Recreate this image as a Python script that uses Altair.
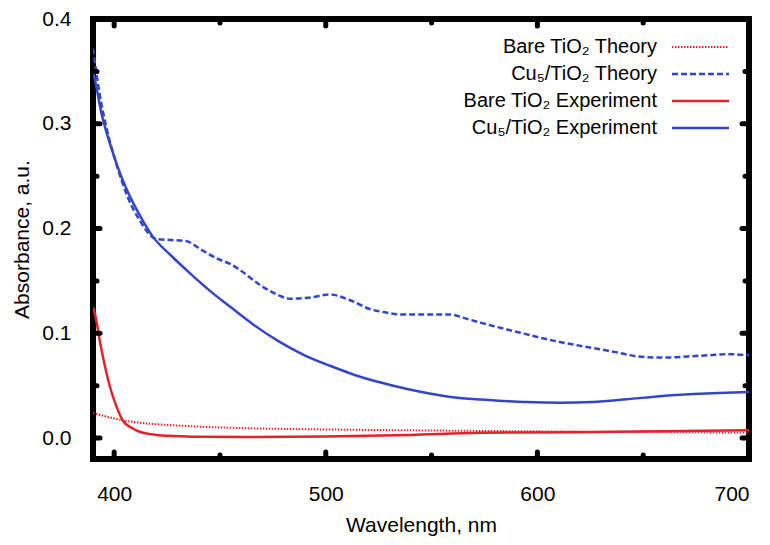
import pandas as pd
import altair as alt

# Cu5/TiO2 theory (dashed blue)
cu_th_wl = [390, 393, 396.5, 401, 406, 412, 418, 420, 427, 434, 441, 449, 455, 459, 469, 477,
            483, 492, 502, 511, 521, 528, 536, 549, 558, 568, 579, 591, 603, 615, 626, 637,
            647, 655, 663, 672, 681, 690, 700]
cu_th_ab = [0.372, 0.330, 0.295, 0.262, 0.232, 0.208, 0.192, 0.190, 0.189, 0.188, 0.180, 0.171,
            0.166, 0.161, 0.146, 0.137, 0.133, 0.134, 0.137, 0.132, 0.123, 0.120, 0.118, 0.118,
            0.118, 0.113, 0.107, 0.101, 0.095, 0.090, 0.086, 0.082, 0.078, 0.077, 0.077, 0.078,
            0.079, 0.080, 0.079]

# Cu5/TiO2 experiment (solid blue)
cu_ex_wl = [390, 391, 394, 398, 402, 406, 412, 418, 427, 436, 445, 455, 466, 478, 490, 502,
            514, 526, 538, 549, 562, 579, 595, 611, 626, 642, 658, 674, 686, 700]
cu_ex_ab = [0.350, 0.341, 0.310, 0.281, 0.257, 0.237, 0.213, 0.193, 0.174, 0.157, 0.141, 0.125,
            0.108, 0.092, 0.079, 0.069, 0.060, 0.053, 0.047, 0.0425, 0.0385, 0.0360, 0.0343,
            0.0338, 0.0345, 0.037, 0.040, 0.042, 0.043, 0.044]

# Bare TiO2 experiment (solid red)
ti_ex_wl = [390, 391, 393.3, 395.7, 398, 401.3, 404, 408, 412, 420, 428, 440, 463, 500, 540,
            573, 620, 660, 700]
ti_ex_ab = [0.125, 0.118, 0.092, 0.068, 0.049, 0.029, 0.017, 0.010, 0.006, 0.003, 0.002, 0.0012,
            0.001, 0.0015, 0.003, 0.005, 0.0055, 0.0065, 0.0075]

# Bare TiO2 theory (dotted red)
ti_th_wl = [390, 404, 415, 428, 445, 463, 500, 550, 600, 650, 700]
ti_th_ab = [0.024, 0.017, 0.014, 0.0122, 0.0105, 0.0094, 0.0082, 0.0072, 0.0064, 0.0058, 0.0052]

x_major = [400, 500, 600, 700]
x_minor = [450, 550, 650]
y_major = [0.0, 0.1, 0.2, 0.3, 0.4]
y_minor = [0.05, 0.15, 0.25, 0.35]

BLUE = "#3346c9"
RED = "#e2232b"
FONT = "Liberation Sans"
W, H = 656, 440

xs = alt.Scale(domain=[390, 700], nice=False, zero=False)
ys = alt.Scale(domain=[-0.02, 0.4], nice=False, zero=False)

series = [
    ("Bare TiO₂ Theory", ti_th_wl, ti_th_ab, RED, [1.5, 1.5], 2),
    ("Cu₅/TiO₂ Theory", cu_th_wl, cu_th_ab, BLUE, [6, 3], 2.5),
    ("Bare TiO₂ Experiment", ti_ex_wl, ti_ex_ab, RED, None, 2.5),
    ("Cu₅/TiO₂ Experiment", cu_ex_wl, cu_ex_ab, BLUE, None, 2.5),
]

layers = []
for name, wl, ab, col, dash, sw in series:
    d = pd.DataFrame({"wl": wl, "ab": ab})
    kw = dict(color=col, strokeWidth=sw, interpolate="monotone", clip=True)
    if dash:
        kw["strokeDash"] = dash
    layers.append(
        alt.Chart(d).mark_line(**kw).encode(
            x=alt.X("wl:Q", scale=xs,
                    axis=alt.Axis(values=x_major, ticks=False, domain=False, grid=False,
                                  labelPadding=24, titlePadding=10),
                    title="Wavelength, nm"),
            y=alt.Y("ab:Q", scale=ys,
                    axis=alt.Axis(values=y_major, format=".1f", ticks=False, domain=False,
                                  grid=False, labelPadding=22, titlePadding=9),
                    title="Absorbance, a.u."),
        )
    )

# inward ticks on all four sides
def xticks(vals, length):
    d = pd.DataFrame({"v": vals})
    base = alt.Chart(d).mark_rule(color="black", strokeWidth=5, strokeCap="round")
    return [
        base.encode(x=alt.X("v:Q", scale=xs), y=alt.value(H), y2=alt.value(H - length)),
        base.encode(x=alt.X("v:Q", scale=xs), y=alt.value(0), y2=alt.value(length)),
    ]


def yticks(vals, length):
    d = pd.DataFrame({"v": vals})
    base = alt.Chart(d).mark_rule(color="black", strokeWidth=5, strokeCap="round")
    return [
        base.encode(y=alt.Y("v:Q", scale=ys), x=alt.value(0), x2=alt.value(length)),
        base.encode(y=alt.Y("v:Q", scale=ys), x=alt.value(W), x2=alt.value(W - length)),
    ]


ticks = xticks(x_major, 7) + xticks(x_minor, 4) + yticks(y_major, 7) + yticks(y_minor, 4)

# legend drawn inside the plot, labels left of the samples
one = pd.DataFrame({"a": [0]})
legend = []
for i, (name, wl, ab, col, dash, sw) in enumerate(series):
    yy = 28 + 27 * i
    kw = dict(color=col, strokeWidth=sw)
    if dash:
        kw["strokeDash"] = dash
    legend.append(
        alt.Chart(one).mark_rule(**kw).encode(
            x=alt.value(579), x2=alt.value(636), y=alt.value(yy))
    )
    legend.append(
        alt.Chart(one).mark_text(align="right", baseline="middle", font=FONT,
                                 fontSize=20, color="black").encode(
            x=alt.value(564), y=alt.value(yy), text=alt.value(name))
    )

chart = (
    alt.layer(*layers, *ticks, *legend)
    .properties(
        width=W,
        height=H,
        autosize=alt.AutoSizeParams(type="none"),
        padding={"left": 85, "top": 11, "right": 13, "bottom": 78},
    )
    .configure(background="white")
    .configure_view(stroke="black", strokeWidth=6)
    .configure_axis(labelFont=FONT, titleFont=FONT, labelFontSize=21, titleFontSize=21,
                    labelColor="black", titleColor="black", titleFontWeight="normal")
)

chart.save("out.html", embed_options={"renderer": "svg", "actions": False})
